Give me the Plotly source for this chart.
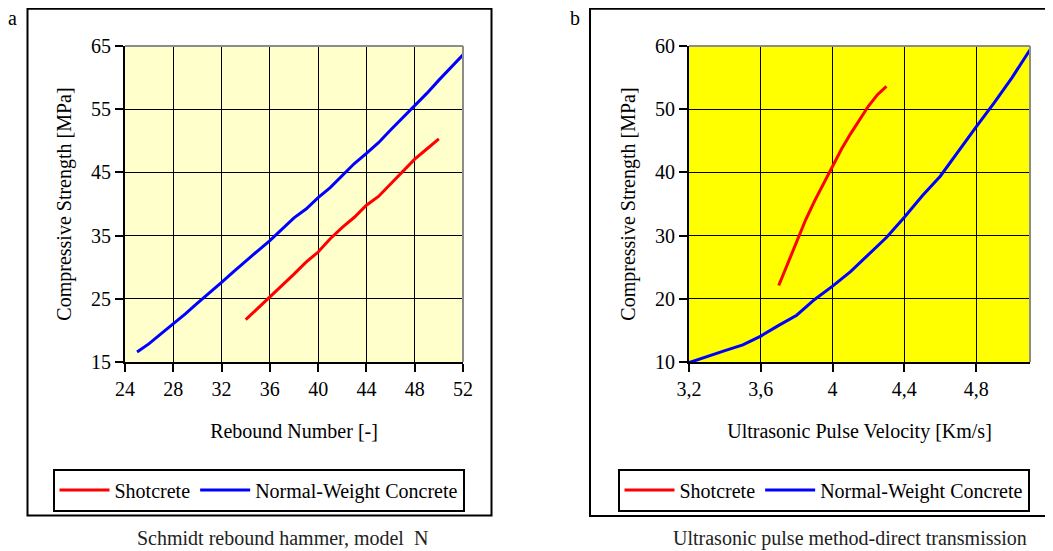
import plotly.graph_objects as go

# ---------------- data ----------------
# Panel a: Schmidt rebound hammer
rebound_shot = [34, 35, 36, 37, 38, 39, 40, 41, 42, 43, 44, 45, 46, 47, 48, 49, 50]
strength_shot_a = [21.7, 23.5, 25.2, 27.1, 28.9, 30.8, 32.4, 34.5, 36.3, 37.9,
                   39.8, 41.2, 43.2, 45.1, 47.1, 48.7, 50.3]
rebound_nwc = [25, 26, 27, 28, 29, 30, 31, 32, 33, 34, 35, 36, 37, 38, 39, 40,
               41, 42, 43, 44, 45, 46, 47, 48, 49, 50, 51, 52]
strength_nwc_a = [16.6, 17.9, 19.5, 21.0, 22.6, 24.3, 25.9, 27.6, 29.3, 31.0,
                  32.6, 34.2, 36.0, 37.8, 39.2, 41.0, 42.6, 44.5, 46.4, 48.0,
                  49.7, 51.7, 53.6, 55.5, 57.5, 59.6, 61.6, 63.6]

# Panel b: Ultrasonic pulse velocity
upv_shot = [3.70, 3.75, 3.80, 3.85, 3.90, 3.95, 4.00, 4.05, 4.10, 4.15, 4.20, 4.25, 4.30]
strength_shot_b = [22.1, 25.6, 29.0, 32.5, 35.5, 38.3, 40.9, 43.7, 46.1, 48.3, 50.5, 52.3, 53.6]
upv_nwc = [3.2, 3.3, 3.4, 3.5, 3.6, 3.7, 3.8, 3.9, 4.0, 4.1, 4.2, 4.3, 4.4,
           4.5, 4.6, 4.7, 4.8, 4.9, 5.0, 5.1]
strength_nwc_b = [9.9, 10.9, 11.8, 12.7, 14.1, 15.8, 17.4, 19.9, 22.0, 24.3,
                  27.0, 29.7, 32.9, 36.3, 39.4, 43.4, 47.2, 51.0, 55.0, 59.4]

series_names = ["Shotcrete", "Normal-Weight Concrete"]
series_colors = ["#FF0000", "#0000FF"]

# the page body has an 8px margin, so the figure is drawn 8px in from the window edge
OFF = 8
W, H = 1053 - OFF, 551 - OFF
FONT = "Liberation Serif"


def px(x):
    return (x - OFF) / W


def py(y):
    return 1 - (y - OFF) / H


fig = go.Figure()

fig.add_trace(go.Scatter(x=rebound_shot, y=strength_shot_a, mode="lines", name=series_names[0],
                         line=dict(color=series_colors[0], width=3), xaxis="x", yaxis="y",
                         legend="legend"))
fig.add_trace(go.Scatter(x=rebound_nwc, y=strength_nwc_a, mode="lines", name=series_names[1],
                         line=dict(color=series_colors[1], width=3), xaxis="x", yaxis="y",
                         legend="legend"))
fig.add_trace(go.Scatter(x=upv_shot, y=strength_shot_b, mode="lines", name=series_names[0],
                         line=dict(color=series_colors[0], width=3), xaxis="x2", yaxis="y2",
                         legend="legend2"))
fig.add_trace(go.Scatter(x=upv_nwc, y=strength_nwc_b, mode="lines", name=series_names[1],
                         line=dict(color=series_colors[1], width=3), xaxis="x2", yaxis="y2",
                         legend="legend2"))

axis_common = dict(showgrid=True, gridcolor="black", gridwidth=1.3, zeroline=False,
                   showline=True, linecolor="black", linewidth=2, automargin=False,
                   ticks="outside", ticklen=8, tickwidth=1.5, tickcolor="black",
                   tickfont=dict(family=FONT, size=20, color="black"))

ydom = [py(362), py(46)]

legend_common = dict(orientation="h", yanchor="middle", y=py(490), xanchor="center",
                     bordercolor="black", borderwidth=2, bgcolor="white", itemwidth=50,
                     font=dict(family=FONT, size=20, color="black"))

fig.update_layout(
    template="none",
    width=W, height=H,
    margin=dict(l=0, r=0, t=0, b=0, autoexpand=False),
    paper_bgcolor="white", plot_bgcolor="white",
    font=dict(family=FONT, size=20, color="black"),
    separators=", ",
    xaxis=dict(domain=[px(125), px(463)], range=[24, 52], tick0=24, dtick=4, anchor="y",
               title=dict(text="Rebound Number [-]", font=dict(size=20), standoff=25),
               **axis_common),
    yaxis=dict(domain=ydom, range=[15, 65], tick0=15, dtick=10, anchor="x",
               title=dict(text="Compressive Strength [MPa]", font=dict(size=20), standoff=14),
               **axis_common),
    xaxis2=dict(domain=[px(689), px(1030)], range=[3.2, 5.1], tick0=3.2, dtick=0.4, anchor="y2",
                title=dict(text="Ultrasonic Pulse Velocity [Km/s]", font=dict(size=20), standoff=25),
                **axis_common),
    yaxis2=dict(domain=ydom, range=[10, 60], tick0=10, dtick=10, anchor="x2",
                title=dict(text="Compressive Strength [MPa]", font=dict(size=20), standoff=14),
                **axis_common),
    legend=dict(x=px(258.5), **legend_common),
    legend2=dict(x=px(823.5), **legend_common),
)

shapes = []
# plot-area backgrounds
shapes.append(dict(type="rect", xref="x domain", yref="y domain", x0=0, x1=1, y0=0, y1=1,
                   fillcolor="#FFFFCC", line=dict(width=0), layer="below"))
shapes.append(dict(type="rect", xref="x2 domain", yref="y2 domain", x0=0, x1=1, y0=0, y1=1,
                   fillcolor="#FFFF00", line=dict(width=0), layer="below"))
# gray plot-area top/right borders
for xr, yr in (("x domain", "y domain"), ("x2 domain", "y2 domain")):
    shapes.append(dict(type="line", xref=xr, yref=yr, x0=0, x1=1, y0=1, y1=1,
                       line=dict(color="#8C8C8C", width=2), layer="above"))
    shapes.append(dict(type="line", xref=xr, yref=yr, x0=1, x1=1, y0=0, y1=1,
                       line=dict(color="#8C8C8C", width=2), layer="above"))
# outer chart boxes
shapes.append(dict(type="rect", xref="paper", yref="paper", x0=px(27.5), x1=px(491.5),
                   y0=py(515.5), y1=py(8.8), line=dict(color="black", width=2)))
shapes.append(dict(type="rect", xref="paper", yref="paper", x0=px(590), x1=px(1070),
                   y0=py(516), y1=py(8.8), line=dict(color="black", width=2)))

annotations = [
    dict(text="a", x=px(12), y=py(18), xref="paper", yref="paper", showarrow=False,
         xanchor="center", yanchor="middle", font=dict(size=20)),
    dict(text="b", x=px(575), y=py(18), xref="paper", yref="paper", showarrow=False,
         xanchor="center", yanchor="middle", font=dict(size=20)),
    dict(text="Schmidt rebound hammer, model\u00a0\u00a0N", x=px(282), y=py(538),
         xref="paper", yref="paper", showarrow=False, xanchor="center", yanchor="middle",
         font=dict(size=20, color="#222222")),
    dict(text="Ultrasonic pulse method-direct transmission", x=px(850), y=py(538),
         xref="paper", yref="paper", showarrow=False, xanchor="center", yanchor="middle",
         font=dict(size=20, color="#222222")),
]

fig.update_layout(shapes=shapes, annotations=annotations)

fig.write_html("out.html")
